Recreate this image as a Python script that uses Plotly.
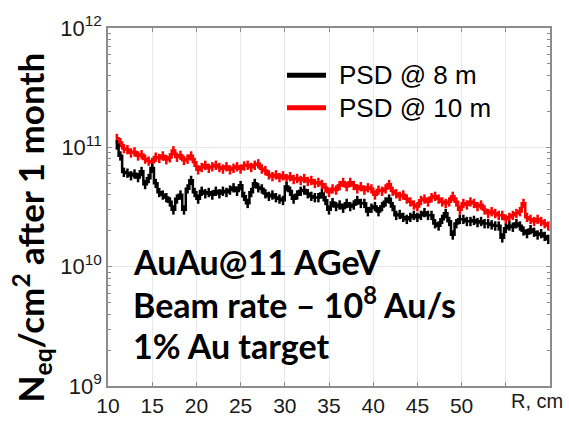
import plotly.graph_objects as go

# Radius bins (cm)
r_cm = [11.0, 11.4, 11.8, 12.2, 12.6, 13.0, 13.4, 13.8, 14.2, 14.6,
        15.0, 15.4, 15.8, 16.2, 16.6, 17.0, 17.4, 17.8, 18.2, 18.6,
        19.0, 19.4, 19.8, 20.2, 20.6, 21.0, 21.4, 21.8, 22.2, 22.6,
        23.0, 23.4, 23.8, 24.2, 24.6, 25.0, 25.4, 25.8, 26.2, 26.6,
        27.0, 27.4, 27.8, 28.2, 28.6, 29.0, 29.4, 29.8, 30.2, 30.6,
        31.0, 31.4, 31.8, 32.2, 32.6, 33.0, 33.4, 33.8, 34.2, 34.6,
        35.0, 35.4, 35.8, 36.2, 36.6, 37.0, 37.4, 37.8, 38.2, 38.6,
        39.0, 39.4, 39.8, 40.2, 40.6, 41.0, 41.4, 41.8, 42.2, 42.6,
        43.0, 43.4, 43.8, 44.2, 44.6, 45.0, 45.4, 45.8, 46.2, 46.6,
        47.0, 47.4, 47.8, 48.2, 48.6, 49.0, 49.4, 49.8, 50.2, 50.6,
        51.0, 51.4, 51.8, 52.2, 52.6, 53.0, 53.4, 53.8, 54.2, 54.6,
        55.0, 55.4, 55.8, 56.2, 56.6, 57.0, 57.4, 57.8, 58.2, 58.6,
        59.0, 59.4, 59.8]

# Fluence, units of 1e10 n_eq/cm^2 after 1 month
psd_10m = [11.9, 11.0, 9.8, 9.6, 9.0, 9.2, 8.5, 8.7, 8.0, 7.7,
           7.5, 8.3, 8.1, 8.5, 7.9, 8.2, 9.4, 8.3, 8.6, 7.8,
           8.0, 8.5, 7.5, 6.5, 6.8, 7.1, 6.7, 6.9, 7.1, 6.8,
           6.6, 6.9, 6.5, 6.7, 6.9, 6.6, 7.0, 7.1, 6.8, 7.1,
           7.3, 6.6, 6.4, 5.9, 5.7, 5.9, 5.6, 5.8, 5.5, 5.7,
           5.4, 5.5, 5.3, 5.5, 5.2, 5.3, 5.0, 5.1, 4.9, 4.6,
           4.2, 4.5, 4.4, 4.8, 5.1, 4.7, 5.1, 4.8, 4.5, 4.7,
           4.4, 4.6, 4.5, 4.0, 4.4, 4.3, 4.5, 4.9, 4.3, 4.1,
           3.9, 4.0, 3.7, 3.5, 3.3, 3.2, 3.6, 3.7, 3.5, 3.8,
           3.9, 3.7, 3.5, 3.4, 3.5, 3.9, 3.5, 3.0, 3.4, 3.3,
           3.5, 3.4, 3.2, 3.3, 3.0, 2.8, 2.9, 2.8, 2.7, 2.7,
           2.5, 2.6, 2.7, 2.8, 2.9, 3.4, 2.6, 2.5, 2.4, 2.5,
           2.4, 2.3, 2.2]

psd_8m = [10.5, 8.5, 6.2, 6.1, 5.8, 6.0, 5.6, 6.3, 4.9, 5.5,
          6.7, 5.0, 4.2, 4.0, 3.8, 3.5, 3.0, 3.7, 4.0, 3.0,
          4.5, 5.3, 4.2, 3.7, 4.3, 4.1, 4.2, 4.0, 4.3, 4.1,
          4.3, 4.2, 4.4, 4.6, 4.3, 4.8, 3.9, 3.4, 4.2, 5.0,
          4.6, 4.5, 4.1, 3.9, 4.0, 3.8, 3.7, 3.6, 4.7, 4.3,
          3.7, 4.0, 4.3, 4.4, 4.1, 3.9, 3.8, 3.8, 4.1, 3.6,
          3.0, 3.45, 3.2, 3.3, 3.1, 3.4, 3.2, 3.3, 3.6, 3.4,
          3.4, 2.9, 3.1, 3.2, 2.9, 3.2, 3.5, 3.7, 3.2, 2.7,
          2.75, 2.6, 2.5, 2.6, 2.7, 2.6, 2.7, 2.85, 2.7, 2.7,
          2.3, 2.2, 2.5, 2.8, 2.4, 1.85, 2.3, 2.5, 2.5, 2.4,
          2.4, 2.45, 2.35, 2.4, 2.3, 2.3, 2.25, 2.2, 2.2, 1.75,
          2.1, 2.2, 2.15, 2.3, 2.2, 2.0, 1.9, 2.05, 1.95, 1.85,
          1.9, 1.8, 1.7]

series_names = ["PSD @ 8 m", "PSD @ 10 m"]
series_colors = ["#000000", "#ff0000"]
x_tickvals = [10, 15, 20, 25, 30, 35, 40, 45, 50, 55]
x_ticktext = ["10", "15", "20", "25", "30", "35", "40", "45", "50", ""]
y_tickvals = [1e9, 1e10, 1e11, 1e12]
y_ticktext = ["10<sup>9</sup>", "10<sup>10</sup>", "10<sup>11</sup>", "10<sup>12</sup>"]

SCALE = 1e10
fig = go.Figure()
for name, vals, col in [(series_names[1], psd_10m, series_colors[1]),
                        (series_names[0], psd_8m, series_colors[0])]:
    fig.add_trace(go.Scatter(
        x=r_cm, y=[v * SCALE for v in vals], mode="lines", name=name,
        line=dict(color=col, width=2.5, shape="hvh"),
        error_y=dict(type="percent", value=9, color=col, thickness=2.5, width=0),
        showlegend=False))

W, H = 569, 429
ML, MR, MT, MB = 108, 19, 14, 29
pw, ph = W - ML - MR, H - MT - MB

def px(x):
    return (x - ML) / pw

def py(y):
    return (H - MB - y) / ph

xtick_font = dict(family="Liberation Sans, Arial", size=21, color="#1a1a1a")
ytick_font = dict(family="Liberation Sans, Arial", size=22, color="#1a1a1a")
fig.update_layout(
    width=W, height=H,
    margin=dict(l=ML, r=MR, t=MT, b=MB),
    paper_bgcolor="white", plot_bgcolor="white",
    xaxis=dict(range=[10, 60], tickvals=x_tickvals, ticktext=x_ticktext,
               showgrid=True, gridcolor="#e8e8e8", gridwidth=1,
               showline=True, linecolor="#8c8c8c", linewidth=1.5, mirror="allticks",
               ticks="inside", ticklen=4, tickcolor="#8c8c8c",
               ticklabeloverflow="allow",
               tickfont=xtick_font, zeroline=False),
    yaxis=dict(type="log", range=[9, 12], tickvals=y_tickvals, ticktext=y_ticktext,
               showgrid=True, gridcolor="#e8e8e8", gridwidth=1,
               showline=True, linecolor="#8c8c8c", linewidth=1.5, mirror="allticks",
               ticks="inside", ticklen=4, tickcolor="#8c8c8c",
               ticklabeloverflow="allow",
               minor=dict(ticks="inside", ticklen=3, tickcolor="#8c8c8c",
                          dtick="D1", showgrid=False),
               tickfont=ytick_font, zeroline=False),
)

annots = []
# axis title
annots.append(dict(xref="paper", yref="paper", x=px(31), y=py(229),
                   text="<b>N<sub>eq</sub>/cm<sup>2</sup> after 1 month</b>",
                   textangle=-90, showarrow=False, xanchor="center", yanchor="middle",
                   font=dict(family="Lato, Open Sans", size=35, color="black")))
annots.append(dict(xref="paper", yref="paper", x=px(537), y=py(416),
                   text="R, cm", showarrow=False, xanchor="center", yanchor="middle",
                   font=dict(family="Liberation Sans, Arial", size=20, color="#1a1a1a")))
# text block
block = ["<b>AuAu@11 AGeV</b>", "<b>Beam rate – 10<sup>8</sup> Au/s</b>", "<b>1% Au target</b>"]
for txt, yc in zip(block, [266, 311, 356]):
    annots.append(dict(xref="paper", yref="paper", x=px(131), y=py(yc), text=txt,
                       showarrow=False, xanchor="left", yanchor="middle",
                       font=dict(family="Lato, Open Sans", size=34, color="black")))
# legend
shapes = []
for name, col, yc in zip(series_names, series_colors, [65, 100]):
    shapes.append(dict(type="line", xref="paper", yref="paper",
                       x0=px(287), x1=px(326), y0=py(yc), y1=py(yc),
                       line=dict(color=col, width=5)))
    annots.append(dict(xref="paper", yref="paper", x=px(337), y=py(yc), text=name,
                       showarrow=False, xanchor="left", yanchor="middle",
                       font=dict(family="Liberation Sans, Arial", size=26, color="black")))
fig.update_layout(annotations=annots, shapes=shapes)

fig.write_html("out.html")
